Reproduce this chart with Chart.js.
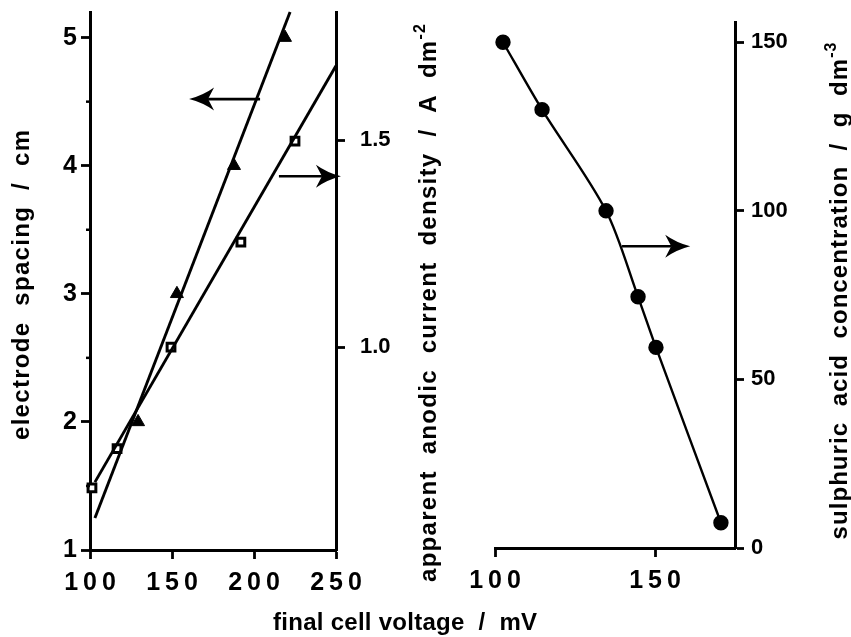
<!DOCTYPE html>
<html>
<head>
<meta charset="utf-8">
<script src="https://cdn.jsdelivr.net/npm/chart.js@4.4.1/dist/chart.umd.min.js"></script>
<style>
  html, body { margin: 0; padding: 0; background: #fff; }
  #wrap { position: relative; width: 851px; height: 637px; }
  #wrap canvas { position: absolute; left: 0; top: 0; }
</style>
</head>
<body>
<div id="wrap">
  <canvas id="leftPanel" width="851" height="637"></canvas>
  <canvas id="rightPanel" width="851" height="637"></canvas>
</div>
<script>
// left panel: electrode spacing (triangles, left axis) and current density (squares, right axis)
const spacingVoltage = [129.3, 153, 187.8, 218.9];
const spacingCm = [2.0, 3.0, 4.0, 5.0];
const spacingFitVoltage = [103, 222];
const spacingFitCm = [1.25, 5.2];

const densityVoltage = [101.2, 116.5, 149.4, 192, 225];
const densityValues = [0.66, 0.755, 1.0, 1.254, 1.498];
const densityFitVoltage = [103, 250];
const densityFitValues = [0.674, 1.68];

// right panel: sulphuric acid concentration
const acidVoltage = [102.5, 114.7, 134.7, 144.7, 150.3, 170.6];
const acidConc = [150, 130, 100, 74.5, 59.5, 7.5];

// tick labels
const leftXTicks = [100, 150, 200, 250];
const spacingTicks = [1, 2, 3, 4, 5];
const spacingMinorTicks = [1.5, 2.5, 3.5, 4.5];
const densityTicks = [1.0, 1.5];
const rightXTicks = [100, 150];
const acidTicks = [0, 50, 100, 150];

// pointer arrows (data coordinates)
const leftArrows = [
  { axis: 'y', from: [203.7, 4.52], to: [160.4, 4.52] },
  { axis: 'y1', from: [215.2, 1.413], to: [253, 1.413] }
];
const rightArrows = [
  { axis: 'y', from: [139.7, 89.5], to: [161, 89.5] }
];

const FONT = '"Liberation Sans", Arial, sans-serif';
const bold = size => ({ family: FONT, weight: 'bold', size: size });
const spaced = v => String(v).split('').join('\u2009');

function boxSize(prop, size) {
  return s => {
    s[prop] = size;
    s.paddingTop = 0; s.paddingBottom = 0; s.paddingLeft = 0; s.paddingRight = 0;
  };
}
function fixedTicks(list) {
  return s => { s.ticks = list.map(v => ({ value: v })); };
}
function axis(extra) {
  return Object.assign({
    type: 'linear',
    grid: { drawOnChartArea: false, drawTicks: true, tickLength: 9, tickWidth: 2.8, tickColor: '#000', color: '#000' },
    border: { display: true, color: '#000', width: 3 }
  }, extra);
}
const pairs = (xs, ys) => xs.map((x, i) => ({ x: x, y: ys[i] }));

function drawArrow(ctx, x1, y1, x2, y2) {
  const dir = Math.sign(x2 - x1);
  const L = 25, W = 11.5, N = 6;
  const bx = x2 - dir * L;
  ctx.save();
  ctx.strokeStyle = '#000';
  ctx.fillStyle = '#000';
  ctx.lineWidth = 2.6;
  ctx.beginPath();
  ctx.moveTo(x1, y1);
  ctx.lineTo(bx + dir * N, y2);
  ctx.stroke();
  ctx.beginPath();
  ctx.moveTo(x2, y2);
  ctx.quadraticCurveTo(x2 - dir * L * 0.55, y2 - W * 0.3, bx, y2 - W);
  ctx.lineTo(bx + dir * N, y2);
  ctx.lineTo(bx, y2 + W);
  ctx.quadraticCurveTo(x2 - dir * L * 0.55, y2 + W * 0.3, x2, y2);
  ctx.fill();
  ctx.restore();
}

function drawTitle(ctx, t) {
  ctx.save();
  ctx.fillStyle = '#000';
  ctx.textBaseline = 'alphabetic';
  ctx.textAlign = 'left';
  const main = 'bold 24px ' + FONT;
  const small = 'bold 16px ' + FONT;
  const glyphs = [];
  for (const ch of t.text) glyphs.push({ ch: ch, font: main, rise: 0 });
  if (t.sup) for (const ch of t.sup) glyphs.push({ ch: ch, font: small, rise: 11 });
  let natural = 0;
  glyphs.forEach(g => { ctx.font = g.font; g.w = ctx.measureText(g.ch).width; natural += g.w; });
  const gap = (t.length - natural) / (glyphs.length - 1);
  ctx.translate(t.x, t.y);
  if (t.vertical) ctx.rotate(-Math.PI / 2);
  let pos = -t.length / 2;
  glyphs.forEach(g => {
    ctx.font = g.font;
    ctx.fillText(g.ch, pos, -g.rise);
    pos += g.w + gap;
  });
  ctx.restore();
}

const leftDecor = {
  id: 'leftDecor',
  afterDraw(chart) {
    const ctx = chart.ctx;
    const xs = chart.scales.x, ys = chart.scales.y;
    ctx.save();
    ctx.strokeStyle = '#000';
    ctx.lineWidth = 2.5;
    spacingMinorTicks.forEach(v => {
      const py = ys.getPixelForValue(v);
      ctx.beginPath();
      ctx.moveTo(chart.chartArea.left - 4, py);
      ctx.lineTo(chart.chartArea.left, py);
      ctx.stroke();
    });
    ctx.restore();
    leftArrows.forEach(a => {
      const sy = chart.scales[a.axis];
      drawArrow(ctx, xs.getPixelForValue(a.from[0]), sy.getPixelForValue(a.from[1]),
        xs.getPixelForValue(a.to[0]), sy.getPixelForValue(a.to[1]));
    });
    drawTitle(ctx, { text: 'electrode  spacing  /  cm', x: 28.5, y: 285, length: 310, vertical: true });
    drawTitle(ctx, { text: 'apparent  anodic  current  density  /  A  dm', sup: '-2', x: 436, y: 303, length: 558, vertical: true });
  }
};

const rightDecor = {
  id: 'rightDecor',
  afterDraw(chart) {
    const ctx = chart.ctx;
    const xs = chart.scales.x;
    rightArrows.forEach(a => {
      const sy = chart.scales[a.axis];
      drawArrow(ctx, xs.getPixelForValue(a.from[0]), sy.getPixelForValue(a.from[1]),
        xs.getPixelForValue(a.to[0]), sy.getPixelForValue(a.to[1]));
    });
    drawTitle(ctx, { text: 'sulphuric  acid  concentration  /  g  dm', sup: '-3', x: 847, y: 291, length: 497, vertical: true });
    drawTitle(ctx, { text: 'final cell voltage  /  mV', x: 405, y: 630, length: 264, vertical: false });
  }
};

const common = {
  responsive: false,
  animation: false,
  devicePixelRatio: 1,
  plugins: { legend: { display: false }, tooltip: { enabled: false } }
};

new Chart(document.getElementById('leftPanel'), {
  type: 'scatter',
  data: {
    datasets: [
      {
        data: pairs(spacingFitVoltage, spacingFitCm), yAxisID: 'y', showLine: true,
        borderColor: '#000', borderWidth: 2.9, pointRadius: 0, clip: false
      },
      {
        data: pairs(densityFitVoltage, densityFitValues), yAxisID: 'y1', showLine: true,
        borderColor: '#000', borderWidth: 2.9, pointRadius: 0, clip: false
      },
      {
        data: pairs(spacingVoltage, spacingCm), yAxisID: 'y', pointStyle: 'triangle',
        pointRadius: 7.5, pointBackgroundColor: '#000', pointBorderColor: '#000', pointBorderWidth: 1, clip: false
      },
      {
        data: pairs(densityVoltage, densityValues), yAxisID: 'y1', pointStyle: 'rect',
        pointRadius: 5.5, pointBackgroundColor: '#fff', pointBorderColor: '#000', pointBorderWidth: 3, clip: false
      }
    ]
  },
  options: Object.assign({}, common, {
    layout: { padding: { top: 12, left: 0, right: 0, bottom: 0 } },
    scales: {
      x: axis({
        position: 'bottom', min: 100, max: 250,
        afterBuildTicks: fixedTicks(leftXTicks),
        afterFit: boxSize('height', 87),
        ticks: { color: '#000', font: bold(25), padding: 9, maxRotation: 0, autoSkip: false, callback: spaced }
      }),
      y: axis({
        position: 'left', min: 1, max: 5.2,
        afterBuildTicks: fixedTicks(spacingTicks),
        afterFit: boxSize('width', 90),
        ticks: { color: '#000', font: bold(25), padding: 4, autoSkip: false, callback: v => String(v) }
      }),
      y1: axis({
        position: 'right', min: 0.51, max: 1.81,
        afterBuildTicks: fixedTicks(densityTicks),
        afterFit: boxSize('width', 515),
        ticks: { color: '#000', font: bold(22), padding: 15, autoSkip: false, callback: v => Number(v).toFixed(1) }
      })
    }
  }),
  plugins: [leftDecor]
});

new Chart(document.getElementById('rightPanel'), {
  type: 'scatter',
  data: {
    datasets: [
      {
        data: pairs(acidVoltage, acidConc), showLine: true, tension: 0.3,
        borderColor: '#000', borderWidth: 2.4,
        pointRadius: 6.5, pointBackgroundColor: '#000', pointBorderColor: '#000', clip: false
      }
    ]
  },
  options: Object.assign({}, common, {
    layout: { padding: { top: 22, left: 495, right: 0, bottom: 0 } },
    scales: {
      x: axis({
        position: 'bottom', min: 100, max: 175,
        afterBuildTicks: fixedTicks(rightXTicks),
        afterFit: boxSize('height', 89),
        ticks: { color: '#000', font: bold(25), padding: 9, maxRotation: 0, autoSkip: false, callback: spaced }
      }),
      y: axis({
        position: 'right', min: 0, max: 156,
        afterBuildTicks: fixedTicks(acidTicks),
        afterFit: boxSize('width', 116),
        ticks: { color: '#000', font: bold(22), padding: 7, autoSkip: false, callback: v => String(v) }
      })
    }
  }),
  plugins: [rightDecor]
});
</script>
</body>
</html>
